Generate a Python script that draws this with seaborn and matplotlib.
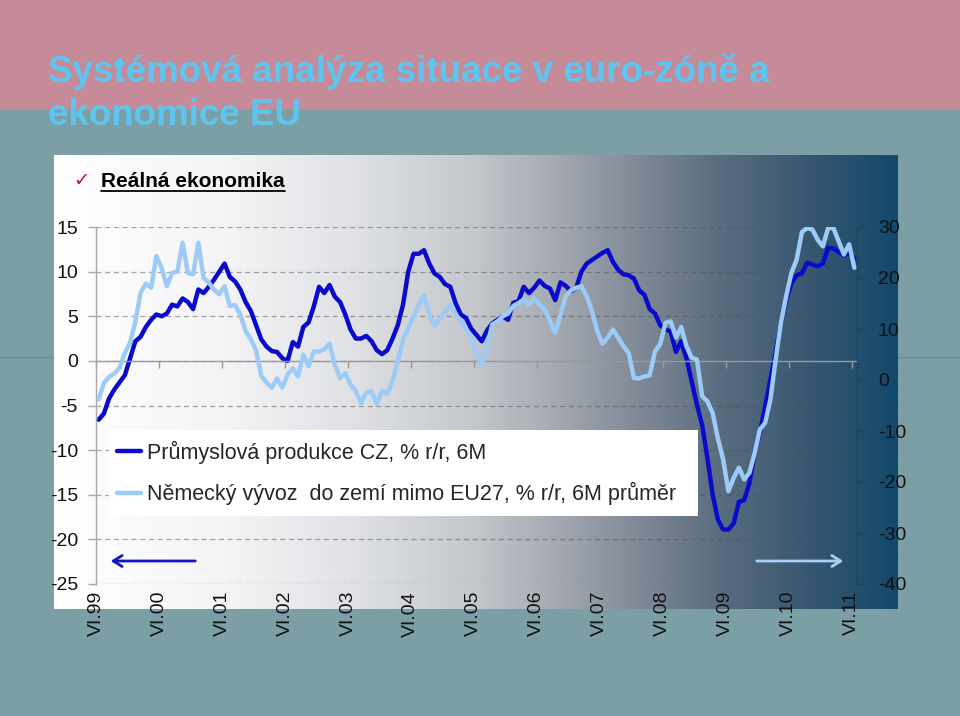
import matplotlib
matplotlib.use("Agg")
import numpy as np
import pandas as pd
import matplotlib.pyplot as plt
import matplotlib.transforms as mtransforms
from matplotlib.colors import LinearSegmentedColormap
from matplotlib.patches import Rectangle, FancyArrowPatch
from matplotlib.lines import Line2D
import seaborn as sns

# ---------------- data ----------------
title_lines = ["Systémová analýza situace v euro-zóně a", "ekonomice EU"]
subtitle = "Reálná ekonomika"
label_cz = "Průmyslová produkce CZ, % r/r, 6M"
label_de = "Německý vývoz  do zemí mimo EU27, % r/r, 6M průměr"
x_tick_labels = ["VI.99", "VI.00", "VI.01", "VI.02", "VI.03", "VI.04", "VI.05",
                 "VI.06", "VI.07", "VI.08", "VI.09", "VI.10", "VI.11"]
left_ticks = [-25, -20, -15, -10, -5, 0, 5, 10, 15]
right_ticks = [-40, -30, -20, -10, 0, 10, 20, 30]

# monthly, VI.1999 - VI.2011 (left axis)
cz_industry = [
    -6.6, -5.9, -4.2, -3.2, -2.4, -1.6, 0.3, 2.2, 2.7, 3.8, 4.6, 5.2,
    5.0, 5.3, 6.3, 6.1, 7.0, 6.6, 5.8, 8.0, 7.6, 8.3, 9.1, 10.0,
    10.9, 9.4, 8.9, 8.0, 6.6, 5.6, 4.0, 2.4, 1.6, 1.1, 1.0, 0.3,
    0.0, 2.1, 1.6, 3.8, 4.3, 6.1, 8.3, 7.6, 8.5, 7.2, 6.6, 5.2,
    3.5, 2.5, 2.5, 2.8, 2.2, 1.2, 0.75, 1.2, 2.5, 4.0, 6.3, 10.0,
    12.0, 12.0, 12.4, 10.9, 9.8, 9.4, 8.6, 8.3, 6.5, 5.2, 4.8, 3.6,
    2.9, 2.2, 3.4, 4.2, 4.6, 5.0, 4.6, 6.5, 6.7, 8.3, 7.6, 8.2,
    9.0, 8.4, 8.1, 6.8, 8.8, 8.4, 7.8, 8.2, 10.0, 10.9, 11.3, 11.7,
    12.1, 12.4, 11.1, 10.2, 9.7, 9.6, 9.2, 7.9, 7.4, 5.8, 5.3, 4.0,
    3.5, 3.3, 1.0, 2.2, 0.3, -2.3, -4.9, -7.2, -10.9, -15.0, -17.8, -18.9,
    -18.9, -18.2, -15.8, -15.6, -13.7, -10.3, -8.1, -5.1, -2.1, 0.9, 4.2, 6.8,
    8.7, 9.6, 9.8, 11.0, 10.8, 10.6, 10.9, 12.7, 12.6, 12.2, 11.8, 12.1,
    11.5,
]
# monthly, VI.1999 - VI.2011 (right axis)
de_exports = [
    -3.8, -0.6, 0.6, 1.3, 2.4, 5.3, 7.3, 11.5, 17.1, 18.9, 18.1, 24.3,
    22.0, 18.4, 21.0, 21.3, 26.9, 21.0, 20.7, 26.9, 20.0, 19.1, 17.7, 16.8,
    18.4, 14.5, 14.7, 12.8, 9.6, 8.0, 5.8, 0.8, -0.5, -1.5, 0.3, -1.5,
    1.1, 2.3, 0.7, 5.0, 2.7, 5.6, 5.6, 6.0, 7.1, 3.0, 0.4, 1.3,
    -0.9, -2.2, -4.5, -2.5, -2.2, -4.7, -2.1, -2.7, -0.2, 3.7, 7.9, 10.2,
    12.5, 14.7, 16.6, 12.8, 10.7, 11.9, 13.4, 14.7, 13.0, 11.5, 10.1, 8.3,
    5.0, 3.0, 6.6, 10.9, 11.5, 12.5, 13.0, 14.5, 15.1, 15.8, 14.8, 16.0,
    14.8, 13.8, 11.5, 9.3, 12.8, 16.4, 17.6, 18.1, 18.4, 16.4, 13.5, 9.6,
    7.1, 8.3, 9.9, 8.3, 6.6, 5.3, 0.4, 0.3, 0.7, 0.9, 5.6, 7.0,
    11.2, 11.5, 8.3, 10.4, 6.6, 4.4, 4.0, -3.2, -4.2, -6.5, -11.5, -15.6,
    -21.8, -19.2, -17.2, -19.5, -18.2, -14.3, -9.7, -8.4, -3.8, 4.0, 11.2, 16.4,
    21.0, 23.6, 29.0, 29.8, 29.5, 27.5, 26.2, 29.8, 29.8, 27.2, 24.6, 26.6,
    22.0,
]

# ---------------- style ----------------
sns.set_theme(style="white")
plt.rcParams["font.family"] = ["Liberation Sans", "DejaVu Sans"]
plt.rcParams["axes.unicode_minus"] = False

W, H = 960, 716
fig = plt.figure(figsize=(W / 100, H / 100), dpi=100)
fig.patch.set_facecolor("#7B9FA4")


def fx(px):
    return px / W


def fy(py):
    return 1 - py / H


# pink header band
fig.add_artist(Rectangle((0, fy(110)), 1, 110 / H, transform=fig.transFigure,
                         facecolor="#C58B98", edgecolor="none", zorder=0))
# thin slide line
fig.add_artist(Line2D([0, 1], [fy(357), fy(357)], transform=fig.transFigure,
                      color="#6A8C92", lw=1, zorder=0.5))

# gradient panel
gax = fig.add_axes([fx(54), fy(609), (897 - 54) / W, (609 - 155) / H], zorder=1)
cmap = LinearSegmentedColormap.from_list("panel", [
    (0.0, "#FFFFFF"), (0.2, "#F4F4F6"), (0.35, "#E0E2E5"), (0.5, "#C3C6CB"),
    (0.6, "#A3A8B0"), (0.7, "#7D8795"), (0.8, "#566A7E"), (0.9, "#365670"),
    (1.0, "#12496C")])
gax.imshow(np.linspace(0, 1, 512)[None, :], aspect="auto", cmap=cmap,
           extent=[0, 1, 0, 1])
gax.set_axis_off()

# main axes
ax = fig.add_axes([fx(96), fy(584), (857 - 96) / W, (584 - 227) / H], zorder=2)
ax.patch.set_alpha(0)
ax2 = ax.twinx()
ax2.set_zorder(3)
ax2.patch.set_alpha(0)

df = pd.DataFrame({"month": np.arange(len(cz_industry)),
                   "cz": cz_industry, "de": de_exports})
sns.lineplot(data=df, x="month", y="cz", ax=ax, color="#0A0ACC", lw=3.2,
             legend=False)
sns.lineplot(data=df, x="month", y="de", ax=ax2, color="#9CCBF7", lw=3.2,
             legend=False)

ax.set_xlim(-0.5, 144.5)
ax.set_ylim(-25, 15)
ax2.set_ylim(-40, 30)
ax.set_xlabel("")
ax.set_ylabel("")
ax2.set_ylabel("")

ax.spines["top"].set_visible(False)
ax.spines["right"].set_visible(False)
ax.spines["left"].set_color("#A8A8A8")
ax.spines["left"].set_linewidth(1)
ax.spines["bottom"].set_position(("data", 0))
ax.spines["bottom"].set_color("#9A9A9A")
ax.spines["bottom"].set_linewidth(1)
for s in ["top", "left", "bottom"]:
    ax2.spines[s].set_visible(False)
ax2.spines["right"].set_color("#2A3F52")
ax2.spines["right"].set_linewidth(1)

ax.set_xticks(np.arange(-0.5, 145, 12))
ax.tick_params(axis="x", which="both", bottom=True, labelbottom=False,
               direction="out", length=5, width=1, color="#9A9A9A")
ax.set_yticks(left_ticks)
ax.tick_params(axis="y", left=True, direction="out", length=6, width=1,
               color="#A8A8A8", pad=7, labelsize=14, labelcolor="#111111")
ax2.set_yticks(right_ticks)
ax2.tick_params(axis="y", right=True, direction="out", length=5, width=1,
                color="#2A3F52", pad=10, labelsize=14, labelcolor="#111111")

ax.set_axisbelow(True)
ax.yaxis.grid(True, linestyle=(0, (4, 3)), color="#505050", alpha=0.5, lw=0.9)
ax.xaxis.grid(False)

trans = mtransforms.blended_transform_factory(ax.transData, fig.transFigure)
for i, lab in enumerate(x_tick_labels):
    ax.text(12 * i - 0.5, fy(591), lab, transform=trans, rotation=90,
            ha="center", va="top", fontsize=14, color="#111111", clip_on=False)

# titles
fig.text(fx(48), fy(82), title_lines[0], fontsize=26.5, fontweight="bold",
         color="#5EC5F0", va="baseline", ha="left", zorder=6)
fig.text(fx(48), fy(125), title_lines[1], fontsize=26.5, fontweight="bold",
         color="#5EC5F0", va="baseline", ha="left", zorder=6)
fig.text(fx(73), fy(186), "✓", fontsize=14, color="#D01040", va="baseline",
         family=["DejaVu Sans"], zorder=6)
sub = fig.text(fx(101), fy(187), subtitle, fontsize=15, fontweight="bold",
               color="black", va="baseline", ha="left", zorder=6)

# legend box
fig.add_artist(Rectangle((fx(109), fy(516)), (698 - 109) / W, (516 - 430) / H,
                         transform=fig.transFigure, facecolor="white",
                         edgecolor="none", zorder=4))
l1 = ax.lines[0]
l2 = ax2.lines[0]
leg = fig.legend([l1, l2], [label_cz, label_de], loc="center left",
                 bbox_to_anchor=(fx(117), fy(473)), frameon=False,
                 fontsize=15.5, borderpad=0, borderaxespad=0,
                 handlelength=1.1, handletextpad=0.3, labelspacing=0.85)
leg.set_zorder(5)

# arrows
fig.add_artist(FancyArrowPatch((fx(198), fy(561)), (fx(108), fy(561)),
                               transform=fig.transFigure,
                               arrowstyle="->,head_length=0.35,head_width=0.22",
                               mutation_scale=18, color="#1515C8", lw=2.0,
                               zorder=6))
fig.add_artist(FancyArrowPatch((fx(754), fy(561)), (fx(846), fy(561)),
                               transform=fig.transFigure,
                               arrowstyle="->,head_length=0.35,head_width=0.22",
                               mutation_scale=18, color="#A8D0F5", lw=2.0,
                               zorder=6))

# underline subtitle
fig.canvas.draw()
bb = sub.get_window_extent()
fig.add_artist(Line2D([bb.x0 / W, bb.x1 / W], [fy(191), fy(191)],
                      transform=fig.transFigure, color="black", lw=1.3,
                      zorder=6))

fig.savefig("out.png", dpi=100, facecolor=fig.get_facecolor())
